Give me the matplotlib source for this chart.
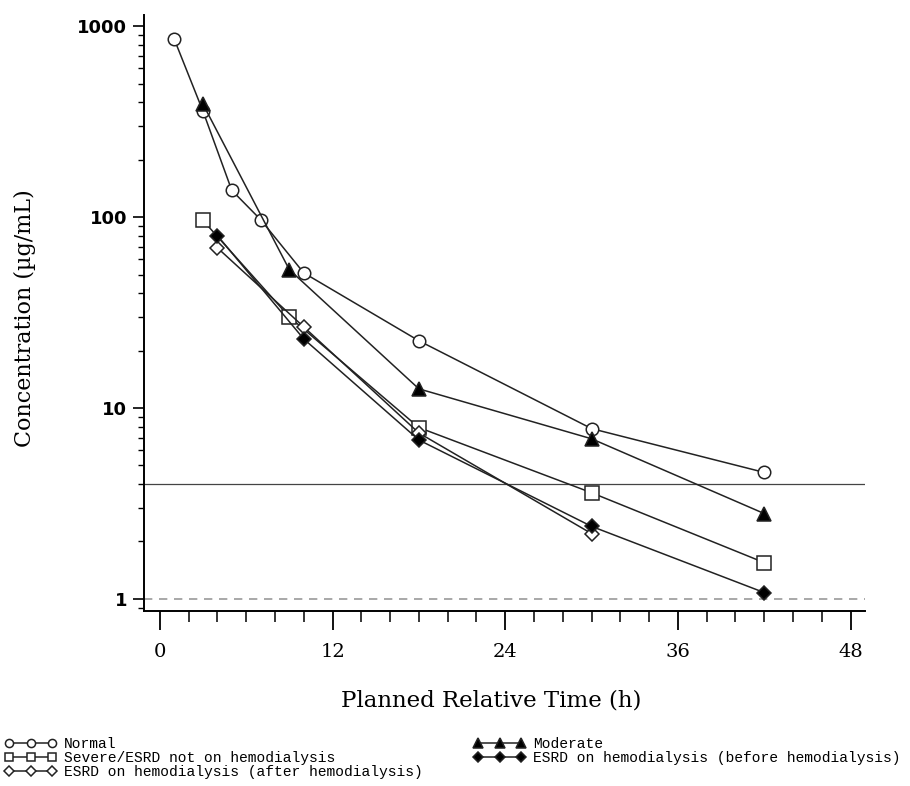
import matplotlib
matplotlib.use("Agg")
import matplotlib.pyplot as plt
from matplotlib.ticker import FixedLocator, NullFormatter, LogLocator

# === Data ===
normal_t = [1, 3, 5, 7, 10, 18, 30, 42]
normal_c = [855, 358, 138, 97, 51, 22.5, 7.8, 4.6]

moderate_t = [3, 9, 18, 30, 42]
moderate_c = [390, 53, 12.6, 6.9, 2.8]

severe_t = [3, 9, 18, 30, 42]
severe_c = [96, 30, 7.9, 3.6, 1.55]

esrd_before_t = [4, 10, 18, 30, 42]
esrd_before_c = [80, 23, 6.8, 2.4, 1.08]

esrd_after_t = [4, 10, 18, 30]
esrd_after_c = [69, 26.6, 7.4, 2.2]

ref_solid = 4.0
ref_dashed = 1.0

x_ticks = [0, 12, 24, 36, 48]
y_ticks = [1, 10, 100, 1000]
y_ticklabels = ["1", "10", "100", "1000"]

# === Figure ===
fig = plt.figure(figsize=(9.1, 7.86), dpi=100)
ax = fig.add_axes([144 / 910, 1 - 611 / 786, (865 - 144) / 910, (611 - 15) / 786])

line_kw = dict(color="#222222", lw=1.1, markeredgecolor="#222222", markeredgewidth=1.1)

h_normal, = ax.plot(normal_t, normal_c, marker="o", ms=9, mfc="white",
                    label="Normal", **line_kw)
h_severe, = ax.plot(severe_t, severe_c, marker="s", ms=9.5, mfc="white",
                    label="Severe/ESRD not on hemodialysis", **line_kw)
h_after, = ax.plot(esrd_after_t, esrd_after_c, marker="D", ms=7.5, mfc="white",
                   label="ESRD on hemodialysis (after hemodialysis)", **line_kw)
h_moderate, = ax.plot(moderate_t, moderate_c, marker="^", ms=10, mfc="black",
                      label="Moderate", **line_kw)
h_before, = ax.plot(esrd_before_t, esrd_before_c, marker="D", ms=7.5, mfc="black",
                    label="ESRD on hemodialysis (before hemodialysis)", **line_kw)

ax.axhline(ref_solid, color="#444444", lw=0.9, zorder=1)
ax.axhline(ref_dashed, color="#999999", lw=1.2, ls=(0, (5, 4)), zorder=1)

# === Axes ===
ax.set_yscale("log")
ax.set_xlim(-1.1, 49.0)
ax.set_ylim(0.865, 1143)

ax.xaxis.set_major_locator(FixedLocator(x_ticks))
ax.xaxis.set_minor_locator(FixedLocator(list(range(2, 48, 2))))
ax.set_xticklabels([str(t) for t in x_ticks], family="DejaVu Serif", fontsize=14)

ax.yaxis.set_major_locator(FixedLocator(y_ticks))
ax.yaxis.set_minor_locator(LogLocator(base=10, subs=range(2, 10)))
ax.yaxis.set_minor_formatter(NullFormatter())
ax.set_yticklabels(y_ticklabels, family="DejaVu Sans", fontweight="bold", fontsize=13)

ax.tick_params(axis="x", which="major", length=14, width=1.3, direction="out", pad=9)
ax.tick_params(axis="x", which="minor", length=8, width=1.1, direction="out")
ax.tick_params(axis="y", which="major", length=8, width=1.2, direction="out", pad=4)
ax.tick_params(axis="y", which="minor", length=4, width=1.0, direction="out")

for s in ["top", "right"]:
    ax.spines[s].set_visible(False)
for s in ["left", "bottom"]:
    ax.spines[s].set_linewidth(1.4)

ax.set_xlabel("Planned Relative Time (h)", family="DejaVu Serif", fontsize=16.5)
ax.xaxis.set_label_coords((491 - 144) / 721, (611 - 690) / 596)
ax.set_ylabel("Concentration (\u00b5g/mL)", family="DejaVu Serif", fontsize=16)
ax.yaxis.set_label_coords((36 - 144) / 721, (611 - 318) / 596)

# === Legend (two blocks at the bottom) ===
leg_kw = dict(frameon=False, numpoints=3, markerscale=0.65, handlelength=3.5,
              handletextpad=0.55, labelspacing=0.0, borderpad=0, borderaxespad=0,
              prop={"family": "Liberation Mono", "size": 10.5})
fig.legend(handles=[h_normal, h_severe, h_after], loc="upper left",
           bbox_to_anchor=(5 / 910, 1 - 737 / 786), **leg_kw)
fig.legend(handles=[h_moderate, h_before], loc="upper left",
           bbox_to_anchor=(474 / 910, 1 - 737 / 786), **leg_kw)

fig.savefig("out.png", dpi=100)
